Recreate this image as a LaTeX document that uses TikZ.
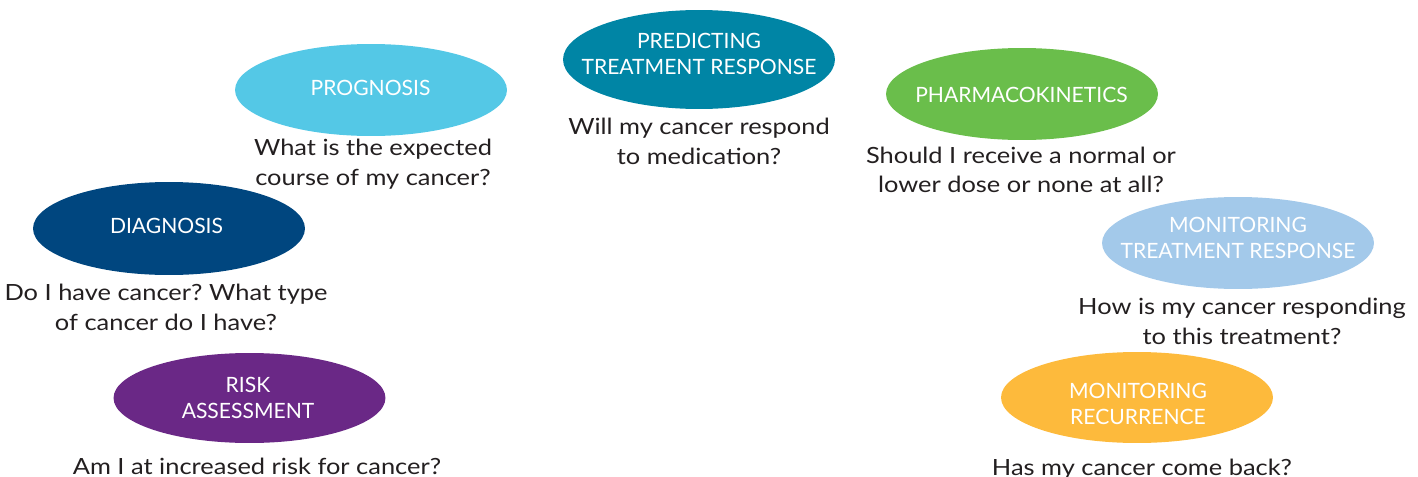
\documentclass[tikz,border=0pt]{standalone}
\usepackage{fontspec}
\setmainfont{Lato}
\newfontfamily\askfont[FakeStretch=1.14]{Lato}
\frenchspacing
\usetikzlibrary{shapes.geometric}
\definecolor{progcol}{RGB}{84,200,230}
\definecolor{predcol}{RGB}{0,133,165}
\definecolor{pharmcol}{RGB}{106,190,75}
\definecolor{diagcol}{RGB}{0,70,127}
\definecolor{montrcol}{RGB}{163,201,234}
\definecolor{riskcol}{RGB}{106,40,134}
\definecolor{recurcol}{RGB}{253,186,60}
\definecolor{ink}{RGB}{35,31,32}
\tikzstyle{bubble}=[ellipse,minimum width=5.44cm,minimum height=1.84cm,inner sep=0pt]
\tikzstyle{tag}=[text=white,align=center,inner sep=0pt,font=\fontsize{12}{14.8}\selectfont]
\tikzstyle{question}=[text=ink,align=center,inner sep=0pt,font=\askfont\fontsize{12.7}{17}\selectfont]

\begin{document}
\begin{tikzpicture}[x=0.02cm,y=-0.02cm]
\useasboundingbox (0,0) rectangle (1418,477);

\node[bubble,fill=progcol] (prog) at (371, 90) {};
\node[bubble,fill=predcol,minimum height=1.98cm] (pred) at (699, 59.5) {};
\node[bubble,fill=pharmcol] (pharm) at (1022, 94) {};
\node[bubble,fill=diagcol,minimum height=1.86cm] (diag) at (169, 228.5) {};
\node[bubble,fill=montrcol] (montr) at (1238, 243) {};
\node[bubble,fill=riskcol,minimum height=1.8cm] (risk) at (249.5, 398) {};
\node[bubble,fill=recurcol,minimum height=1.82cm] (recur) at (1137, 397.5) {};

\node[tag] (lprog) at (370.5, 87.5) {PROGNOSIS};
\node[tag] (lpred) at (699, 53.5) {PREDICTING\\TREATMENT RESPONSE};
\node[tag] (lpharm) at (1021.5, 94.5) {PHARMACOKINETICS};
\node[tag] (ldiag) at (166.5, 226) {DIAGNOSIS};
\node[tag] (lmontr) at (1238, 238) {MONITORING\\TREATMENT RESPONSE};
\node[tag] (lrisk) at (248, 397.5) {RISK\\ASSESSMENT};
\node[tag] (lrecur) at (1138, 404) {MONITORING\\RECURRENCE};

\node[question] (qprog) at (373, 163.8) {What is the expected\\course of my cancer?};
\node[question] (qpred) at (699, 141.4) {Will my cancer respond\\to medication?};
\node[question] (qpharm) at (1021, 169.9) {Should I receive a normal or\\lower dose or none at all?};
\node[question] (qdiag) at (166, 307.4) {Do I have cancer? What type\\of cancer do I have?};
\node[question] (qmontr) at (1242, 321.4) {How is my cancer responding\\to this treatment?};
\node[question] (qrisk) at (257, 466.8) {Am I at increased risk for cancer?};
\node[question] (qrecur) at (1142, 468.8) {Has my cancer come back?};
\end{tikzpicture}
\end{document}
